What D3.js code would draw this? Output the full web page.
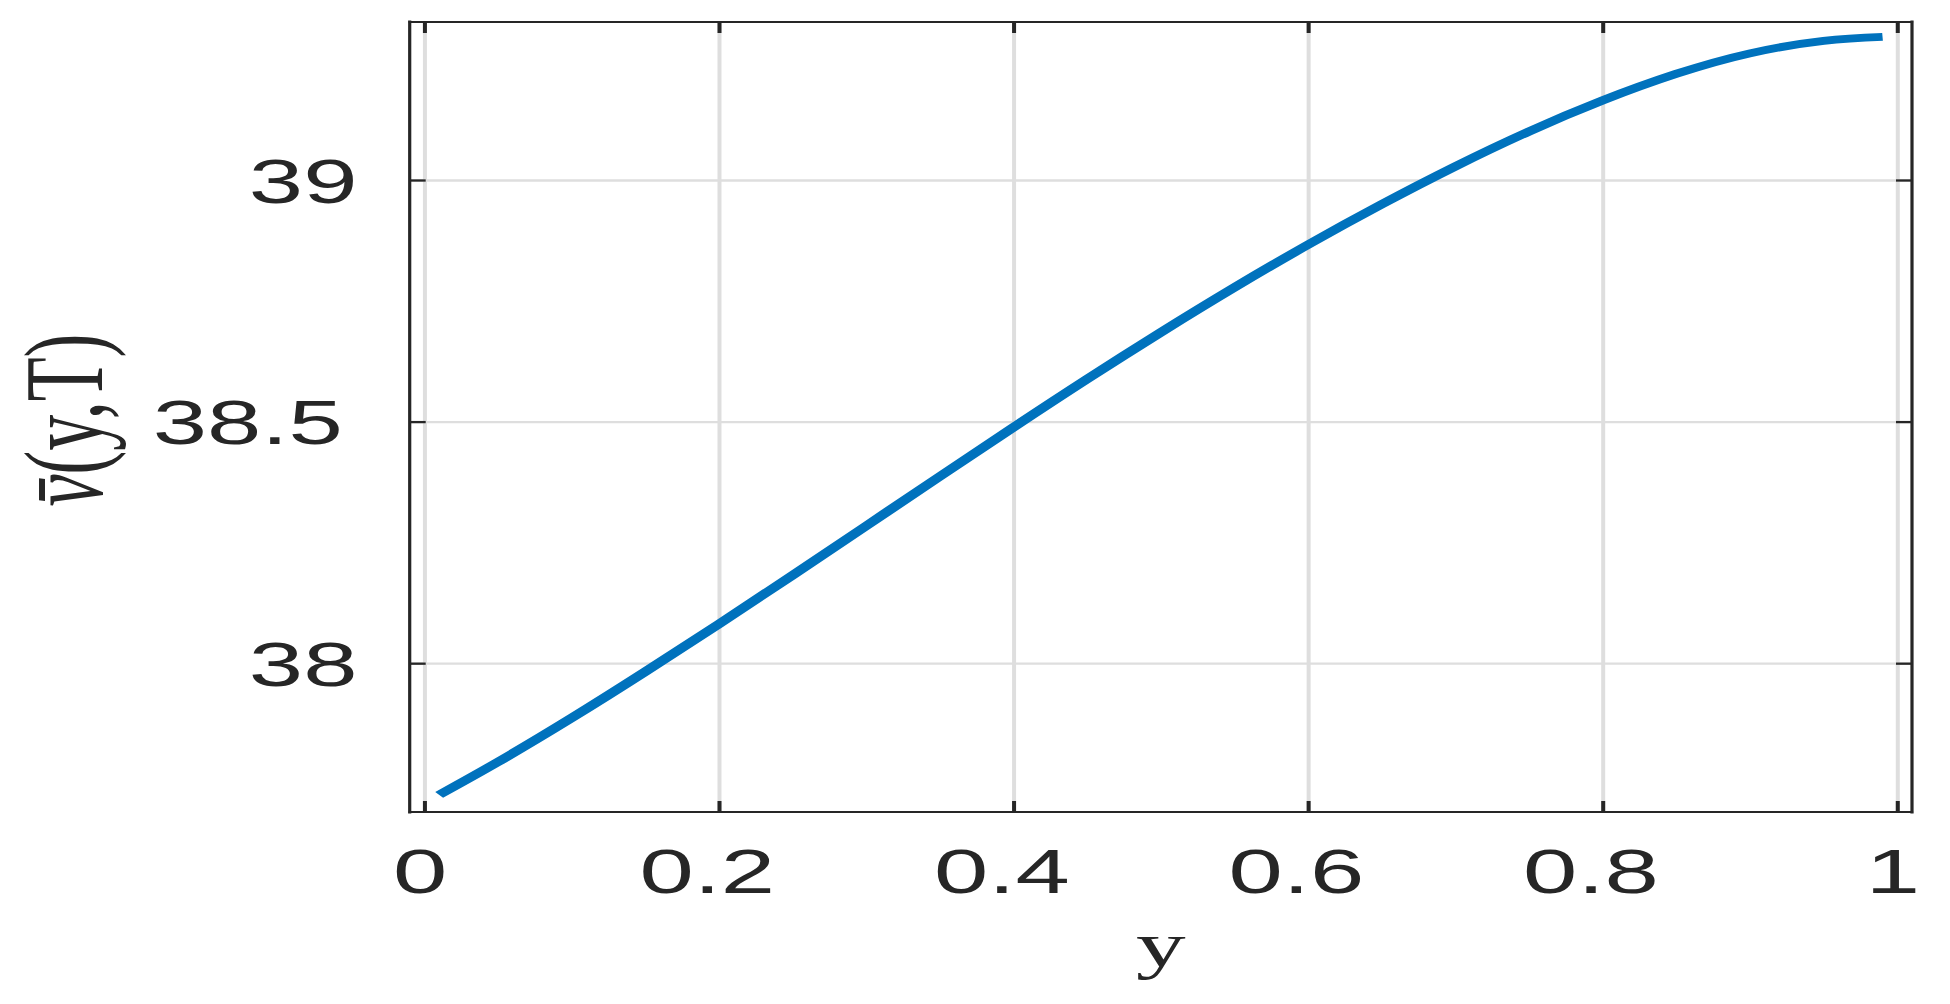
<!DOCTYPE html>
<html>
<head>
<meta charset="utf-8">
<script src="https://cdn.jsdelivr.net/npm/d3@7"></script>
<style>
  html, body { margin: 0; padding: 0; background: #ffffff; }
  svg { display: block; }
</style>
</head>
<body>
<svg id="chart" width="1950" height="1004"></svg>
<script>
// ---- data ----
const yPos   = [0.01, 0.05, 0.10, 0.15, 0.20, 0.25, 0.30, 0.35, 0.40, 0.45, 0.50, 0.55, 0.60, 0.65, 0.70, 0.75, 0.80, 0.85, 0.90, 0.95, 0.99];
const vBar   = [37.7275, 37.7957, 37.8867, 37.9825, 38.0812, 38.1821, 38.2842, 38.3866, 38.4882, 38.5880, 38.6847, 38.7777, 38.8662, 38.9497, 39.0282, 39.1005, 39.1647, 39.2197, 39.2622, 39.2880, 39.2960];
const xTicks = [0, 0.2, 0.4, 0.6, 0.8, 1];
const xTickLabels = ["0", "0.2", "0.4", "0.6", "0.8", "1"];
const yTicks = [38, 38.5, 39];
const yTickLabels = ["38", "38.5", "39"];
const xDomain = [-0.01, 1.01];
const yDomain = [37.692, 39.327];

// ---- layout ----
const L = 409.7, R = 1912, T = 22, B = 812;
const SX = 1.55;           // horizontal stretch of the original figure
const ink = "#262626", gridC = "#dedede", lineC = "#0072BD";
const sans = "'Liberation Sans', Arial, Helvetica, sans-serif";
const serif = "'Liberation Serif', 'Times New Roman', serif";

const svg = d3.select("#chart");
const x = d3.scaleLinear().domain(xDomain).range([L, R]);
const y = d3.scaleLinear().domain(yDomain).range([B, T]);

// grid
const gx = svg.append("g").attr("transform", `translate(0,${B})`)
  .call(d3.axisBottom(x).tickValues(xTicks).tickSize(-(B - T)).tickFormat(""));
gx.select(".domain").remove();
gx.selectAll("line").attr("stroke", gridC).attr("stroke-width", 4);

const gy = svg.append("g").attr("transform", `translate(${L},0)`)
  .call(d3.axisLeft(y).tickValues(yTicks).tickSize(-(R - L)).tickFormat(""));
gy.select(".domain").remove();
gy.selectAll("line").attr("stroke", gridC).attr("stroke-width", 2.3);

// curve (drawn in unstretched space, then stretched horizontally like the original)
const pts = yPos.map((d, i) => [d, vBar[i]]);
svg.append("g").attr("transform", `scale(${SX},1)`)
  .append("path").datum(pts)
  .attr("fill", "none").attr("stroke", lineC).attr("stroke-width", 7.8)
  .attr("stroke-linejoin", "round")
  .attr("d", d3.line().x(d => x(d[0]) / SX).y(d => y(d[1])).curve(d3.curveNatural));

// axes (ticks inside, on all four sides)
function styleAxis(g, vertLines) {
  g.select(".domain").remove();
  g.selectAll(".tick line").attr("stroke", ink).attr("stroke-width", vertLines ? 4 : 2.3);
}
const fmtX = d => xTickLabels[xTicks.indexOf(d)];
const fmtY = d => yTickLabels[yTicks.indexOf(d)];

const axB = svg.append("g").attr("transform", `translate(0,${B})`)
  .call(d3.axisBottom(x).tickValues(xTicks).tickSize(-11).tickFormat(fmtX));
styleAxis(axB, true);
axB.selectAll(".tick text")
  .attr("dy", 0).attr("y", 80.7)
  .attr("fill", ink).attr("font-family", sans).attr("font-size", 63)
  .each(function () {
    const w = this.getComputedTextLength() * SX;
    d3.select(this).attr("x", -0.09 * w / SX).attr("transform", `scale(${SX},1)`);
  });

const axT = svg.append("g").attr("transform", `translate(0,${T})`)
  .call(d3.axisTop(x).tickValues(xTicks).tickSize(-11).tickFormat(""));
styleAxis(axT, true);

const axL = svg.append("g").attr("transform", `translate(${L},0)`)
  .call(d3.axisLeft(y).tickValues(yTicks).tickSize(-16).tickFormat(fmtY));
styleAxis(axL, false);
axL.selectAll(".tick text")
  .attr("dy", 0).attr("y", 22).attr("text-anchor", "end")
  .attr("fill", ink).attr("font-family", sans).attr("font-size", 63)
  .each(function () {
    const w = this.getComputedTextLength() * SX;
    const right = 377 - 0.18 * w;   // page x of the label's right edge
    d3.select(this).attr("x", (right - L) / SX).attr("transform", `scale(${SX},1)`);
  });

const axR = svg.append("g").attr("transform", `translate(${R},0)`)
  .call(d3.axisRight(y).tickValues(yTicks).tickSize(-16).tickFormat(""));
styleAxis(axR, false);

// box
const box = svg.append("g").attr("stroke", ink).attr("stroke-linecap", "square");
box.append("line").attr("x1", L).attr("x2", R).attr("y1", T).attr("y2", T).attr("stroke-width", 2.2);
box.append("line").attr("x1", L).attr("x2", R).attr("y1", B).attr("y2", B).attr("stroke-width", 2.2);
box.append("line").attr("x1", L).attr("x2", L).attr("y1", T).attr("y2", B).attr("stroke-width", 3.2);
box.append("line").attr("x1", R).attr("x2", R).attr("y1", T).attr("y2", B).attr("stroke-width", 3.2);

// axis labels
svg.append("text")
  .attr("transform", `translate(${(L + R) / 2},966) scale(${SX},1)`)
  .attr("text-anchor", "middle").attr("fill", ink)
  .attr("font-family", serif).attr("font-size", 64)
  .text("y");

const yl = svg.append("text")
  .attr("transform", `translate(102,420) scale(${SX},1) rotate(-90)`)
  .attr("text-anchor", "middle").attr("fill", ink)
  .attr("font-family", serif).attr("font-size", 72);
yl.append("tspan").attr("font-style", "italic").text("v\u0304");
yl.append("tspan").text("(y,T)");
</script>
</body>
</html>
